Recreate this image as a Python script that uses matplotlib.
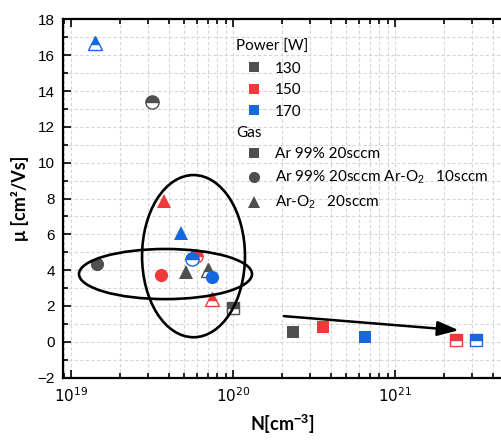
import matplotlib
matplotlib.use("Agg")
import matplotlib.pyplot as plt
from matplotlib.lines import Line2D
from matplotlib.patches import Ellipse
from matplotlib.ticker import LogLocator, MultipleLocator, NullFormatter, FuncFormatter

plt.rcParams["mathtext.fontset"] = "custom"
plt.rcParams["mathtext.rm"] = "Liberation Sans"
plt.rcParams["mathtext.it"] = "Liberation Sans:italic"
plt.rcParams["mathtext.bf"] = "Liberation Sans:bold"

# Carrier concentration N [cm^-3] and Hall mobility [cm^2/Vs]
carrier_n = [1.4e19, 3.15e19, 1.44e19, 3.73e19, 3.6e19, 4.8e19, 5.93e19, 5.6e19,
             5.15e19, 7.0e19, 7.4e19, 7.4e19, 1.0e20, 2.33e20, 3.6e20, 6.55e20,
             2.37e21, 3.14e21]
mobility = [16.7, 13.4, 4.35, 7.87, 3.7, 6.1, 4.8, 4.6,
            3.9, 4.0, 3.6, 2.4, 1.9, 0.55, 0.83, 0.27,
            0.08, 0.07]
power_w = [170, 130, 130, 150, 150, 170, 150, 170,
           130, 130, 170, 150, 130, 130, 150, 170,
           150, 170]
gas_mode = ["ArO2", "mix", "mix", "ArO2", "mix", "ArO2", "mix", "mix",
            "ArO2", "ArO2", "mix", "ArO2", "Ar", "Ar", "Ar", "Ar",
            "Ar", "Ar"]
half_filled = [True, True, False, False, False, False, True, True,
               False, True, False, True, True, False, False, False,
               True, True]

power_levels = [130, 150, 170]
power_colors = {130: "#4f4f4f", 150: "#f0393c", 170: "#1668de"}
gas_labels = ["Ar 99% 20sccm", "Ar 99% 20sccm Ar-O$_2$   10sccm", "Ar-O$_2$   20sccm"]
gas_keys = ["Ar", "mix", "ArO2"]
gas_markers = {"Ar": "s", "mix": "o", "ArO2": "^"}
gas_sizes = {"Ar": 8.0, "mix": 9.5, "ArO2": 10.0}

# trend arrow endpoints (N, mu)
arrow_start = (2.06e20, 1.43)
arrow_end = (2.47e21, 0.64)

fig = plt.figure(figsize=(5.02, 4.40), dpi=100)
ax = fig.add_axes([0.1255, 0.142, 0.8725, 0.8137])

ax.set_xscale("log")
ax.set_xlim(8.93e18, 4.5e21)
ax.set_ylim(-2, 18)

ax.xaxis.set_major_locator(LogLocator(base=10, numticks=10))
ax.xaxis.set_minor_locator(LogLocator(base=10, subs=range(2, 10), numticks=20))
ax.xaxis.set_minor_formatter(NullFormatter())
ax.yaxis.set_major_locator(MultipleLocator(2))
ax.yaxis.set_minor_locator(MultipleLocator(1))
ax.yaxis.set_major_formatter(FuncFormatter(
    lambda v, p: f"{int(round(v))}".replace("-", "\u2212")))

ax.grid(True, which="both", linestyle=(0, (3, 2)), color="#d6d6d6", linewidth=0.8)
ax.set_axisbelow(True)

for s in ["left", "bottom", "top"]:
    ax.spines[s].set_linewidth(1.6)
ax.spines["right"].set_visible(False)

ax.tick_params(which="both", direction="in", top=True, right=False, width=1.2)
ax.tick_params(which="major", length=6, labelsize=11, pad=6)
ax.tick_params(which="minor", length=3.5)
for lab in ax.get_yticklabels():
    lab.set_family("Liberation Sans")

# data points, drawn by power level
for pw in power_levels:
    for n, mu, p, g, h in zip(carrier_n, mobility, power_w, gas_mode, half_filled):
        if p != pw:
            continue
        c = power_colors[p]
        if h:
            ax.plot([n], [mu], linestyle="none", marker=gas_markers[g],
                    markersize=gas_sizes[g], fillstyle="top",
                    markerfacecolor=c, markerfacecoloralt="white",
                    markeredgecolor=c, markeredgewidth=1.0, zorder=3)
        else:
            ax.plot([n], [mu], linestyle="none", marker=gas_markers[g],
                    markersize=gas_sizes[g], color=c,
                    markeredgewidth=0, zorder=3)

# grouping ellipses
ax.add_patch(Ellipse((0.234, 0.289), 0.395, 0.140, transform=ax.transAxes,
                     fill=False, edgecolor="black", linewidth=1.9, zorder=4))
ax.add_patch(Ellipse((0.298, 0.339), 0.235, 0.453, transform=ax.transAxes,
                     fill=False, edgecolor="black", linewidth=1.9, zorder=4))

ax.annotate("", xy=arrow_end, xytext=arrow_start,
            arrowprops=dict(arrowstyle="-|>,head_length=1.3,head_width=0.45",
                            color="black", linewidth=1.8, shrinkA=0, shrinkB=0),
            zorder=5)

label_font = ["Lato", "DejaVu Sans"]
ax.set_ylabel("\u03bc [cm\u00b2/Vs]", fontsize=13, fontweight="bold",
              family=label_font, labelpad=6)
ax.set_xlabel("N[cm$^{\\mathbf{-3}}$]", fontsize=13, fontweight="bold",
              family=label_font, labelpad=6)

leg_font = {"family": "Lato", "size": 11}
power_handles = [Line2D([], [], linestyle="none", marker="s", markersize=7,
                        color=power_colors[p], markeredgewidth=0) for p in power_levels]
leg1 = ax.legend(power_handles, [str(p) for p in power_levels], title="Power [W]",
                 loc="upper left", bbox_to_anchor=(0.37, 0.973), frameon=False,
                 prop=leg_font, title_fontproperties=leg_font, alignment="left",
                 handlelength=2.4, handletextpad=0.15, labelspacing=0.5,
                 borderpad=0.2)
ax.add_artist(leg1)
gas_handles = [Line2D([], [], linestyle="none", marker=gas_markers[g],
                      markersize={"Ar": 7, "mix": 8, "ArO2": 9}[g],
                      color=power_colors[130], markeredgewidth=0) for g in gas_keys]
ax.legend(gas_handles, gas_labels, title="Gas",
          loc="upper left", bbox_to_anchor=(0.37, 0.733), frameon=False,
          prop=leg_font, title_fontproperties=leg_font, alignment="left",
          handlelength=2.4, handletextpad=0.15, labelspacing=0.5,
          borderpad=0.2)

fig.savefig("out.png", dpi=100)
